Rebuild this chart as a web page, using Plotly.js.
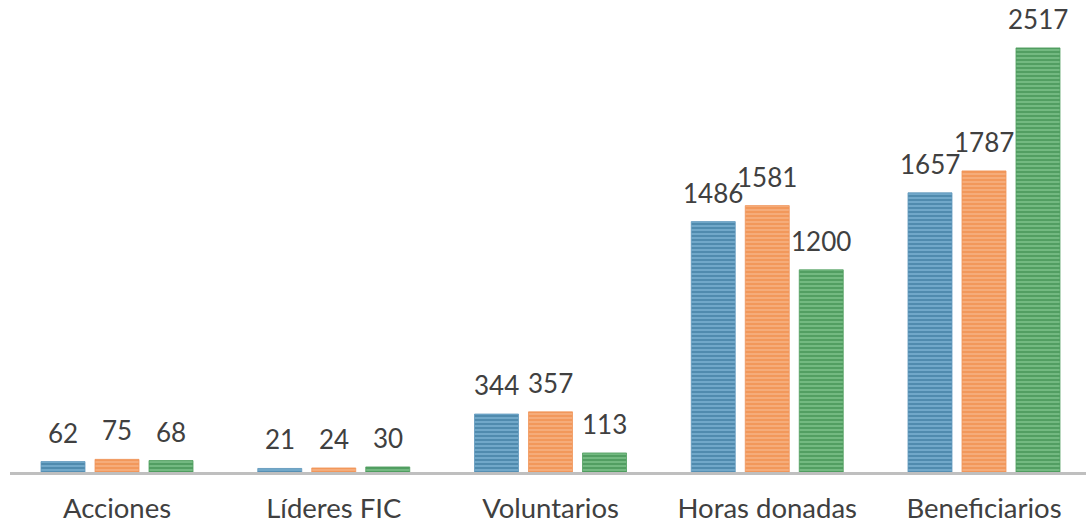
<!DOCTYPE html>
<html>
<head>
<meta charset="utf-8">
<script src="https://cdn.plot.ly/plotly-3.0.1.min.js"></script>
<style>html,body{margin:0;padding:0;background:#fff;}#chart{width:1086px;height:532px;}</style>
</head>
<body>
<div id="chart"></div>
<script>
const categories = ["Acciones", "Líderes FIC", "Voluntarios", "Horas donadas", "Beneficiarios"];
const serie1 = [62, 21, 344, 1486, 1657];
const serie2 = [75, 24, 357, 1581, 1787];
const serie3 = [68, 30, 113, 1200, 2517];

const styles = [
  {dark: "#1a5a82", light: "#86bcdb", edge: "#5f98bd"},
  {dark: "#ec7829", light: "#f8b98d", edge: "#f0965a"},
  {dark: "#1b7130", light: "#88cb95", edge: "#4f9e5e"}
];
const seriesData = [serie1, serie2, serie3];
const FONT = "Lato, 'Open Sans', sans-serif";

const traces = seriesData.map((vals, i) => ({
  type: "bar",
  x: categories,
  y: vals,
  marker: {
    color: styles[i].light,
    line: {color: styles[i].edge, width: 0.8},
    pattern: {shape: "-", fgcolor: styles[i].dark, bgcolor: styles[i].light, size: 4, solidity: 0.7, fillmode: "overlay"}
  },
  hoverinfo: "skip",
  showlegend: false
}));

const annotations = [];
seriesData.forEach((vals, i) => {
  vals.forEach((v, j) => {
    annotations.push({
      x: categories[j], y: v, xref: "x", yref: "y",
      text: String(v), showarrow: false,
      yanchor: "bottom", xanchor: "center",
      xshift: (i - 1) * 54, yshift: 11,
      font: {family: FONT, size: 26, color: "#404040"}
    });
  });
});

const layout = {
  width: 1086,
  height: 532,
  margin: {l: 10, r: 0, t: 10, b: 60},
  paper_bgcolor: "#ffffff",
  plot_bgcolor: "#ffffff",
  bargap: 0.2526,
  bargroupgap: 0.185,
  barmode: "group",
  font: {family: FONT, color: "#404040"},
  annotations: annotations,
  xaxis: {
    type: "category",
    range: [-0.4937, 4.4706],
    showline: true,
    linecolor: "#bfbfbf",
    linewidth: 2.5,
    ticks: "",
    showgrid: false,
    zeroline: false,
    tickfont: {family: FONT, size: 27.5, color: "#404040"},
    ticklabelstandoff: 10
  },
  yaxis: {
    range: [0, 2742],
    visible: false,
    showgrid: false,
    zeroline: false
  }
};

Plotly.newPlot("chart", traces, layout, {displayModeBar: false, staticPlot: true});
</script>
</body>
</html>
